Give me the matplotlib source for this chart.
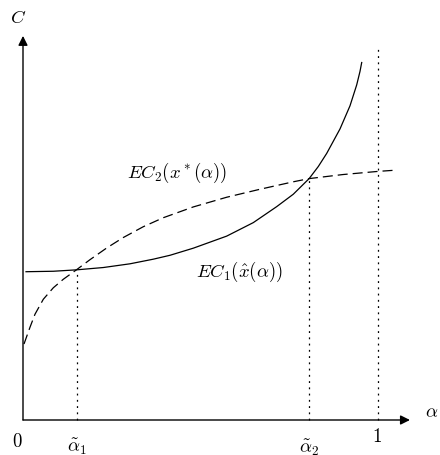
import numpy as np
import matplotlib
matplotlib.use("Agg")
from matplotlib import pyplot as plt

plt.rcParams["mathtext.fontset"] = "cm"
plt.rcParams["font.family"] = "serif"
plt.rcParams["font.serif"] = ["DejaVu Serif"]

# curves (alpha, C)
alpha_ec1 = [0.0085, 0.0854, 0.1513, 0.2262, 0.3014, 0.3670, 0.4141, 0.4797, 0.5738, 0.6487,
             0.7146, 0.7614, 0.8060, 0.8318, 0.8555, 0.8930, 0.9211, 0.9400, 0.9493, 0.9541]
c_ec1 = [0.4177, 0.4190, 0.4230, 0.4295, 0.4400, 0.4530, 0.4640, 0.4840, 0.5180, 0.5560,
         0.6010, 0.6360, 0.6800, 0.7140, 0.7510, 0.8200, 0.8850, 0.9440, 0.9820, 1.0070]

alpha_ec2 = [0.0028, 0.0197, 0.0338, 0.0572, 0.0854, 0.1135, 0.1513, 0.1887, 0.2358, 0.2825,
             0.3389, 0.3952, 0.4797, 0.5738, 0.6676, 0.7614, 0.8060, 0.9010, 1.0, 1.042]
c_ec2 = [0.2140, 0.2613, 0.2980, 0.3401, 0.3725, 0.3964, 0.4236, 0.4516, 0.4846, 0.5140,
         0.5445, 0.5698, 0.6002, 0.6275, 0.6500, 0.6710, 0.6800, 0.6914, 0.7003, 0.7032]

# crossing points and alpha = 1
alpha_marks = [0.152, 0.806, 1.0]
c_marks = [0.423, 0.680, 1.051]
mark_labels = [r"$\tilde{\alpha}_1$", r"$\tilde{\alpha}_2$", r"$1$"]

fig = plt.figure(figsize=(4.4, 4.56), dpi=100)
ax = fig.add_axes([0, 0, 1, 1])
ax.set_xlim(-23 / 355, 417 / 355)
ax.set_ylim(-35 / 355, 421 / 355)
ax.axis("off")

# axes with arrows
ax.annotate("", xy=(1.09, 0), xytext=(0, 0),
            arrowprops=dict(arrowstyle="-|>", lw=1, color="black", mutation_scale=14, shrinkA=0, shrinkB=0))
ax.annotate("", xy=(0, 1.082), xytext=(0, 0),
            arrowprops=dict(arrowstyle="-|>", lw=1, color="black", mutation_scale=14, shrinkA=0, shrinkB=0))

ax.plot(alpha_ec1, c_ec1, color="black", lw=0.9, solid_joinstyle="round")
ax.plot(alpha_ec2, c_ec2, color="black", lw=0.9, linestyle=(0, (8, 4)))

for a, c in zip(alpha_marks, c_marks):
    ax.plot([a, a], [0, c], color="black", lw=0.9, linestyle=(0, (1.5, 3.5)))

fs = 13.5
ax.text(-0.015, -0.058, r"$0$", fontsize=fs, ha="center", va="center")
ax.text(alpha_marks[0], -0.072, mark_labels[0], fontsize=fs, ha="center", va="center")
ax.text(alpha_marks[1], -0.074, mark_labels[1], fontsize=fs, ha="center", va="center")
ax.text(alpha_marks[2] - 0.004, -0.046, mark_labels[2], fontsize=fs, ha="center", va="center")
ax.text(1.152, 0.025, r"$\alpha$", fontsize=fs, ha="center", va="center")
ax.text(-0.014, 1.135, r"$C$", fontsize=fs, ha="center", va="center")

ax.text(0.293, 0.70, r"$EC_2(x^*(\alpha))$", fontsize=fs, ha="left", va="center")
ax.text(0.488, 0.42, r"$EC_1(\hat{x}(\alpha))$", fontsize=fs, ha="left", va="center")

fig.savefig("out.png", dpi=100)
